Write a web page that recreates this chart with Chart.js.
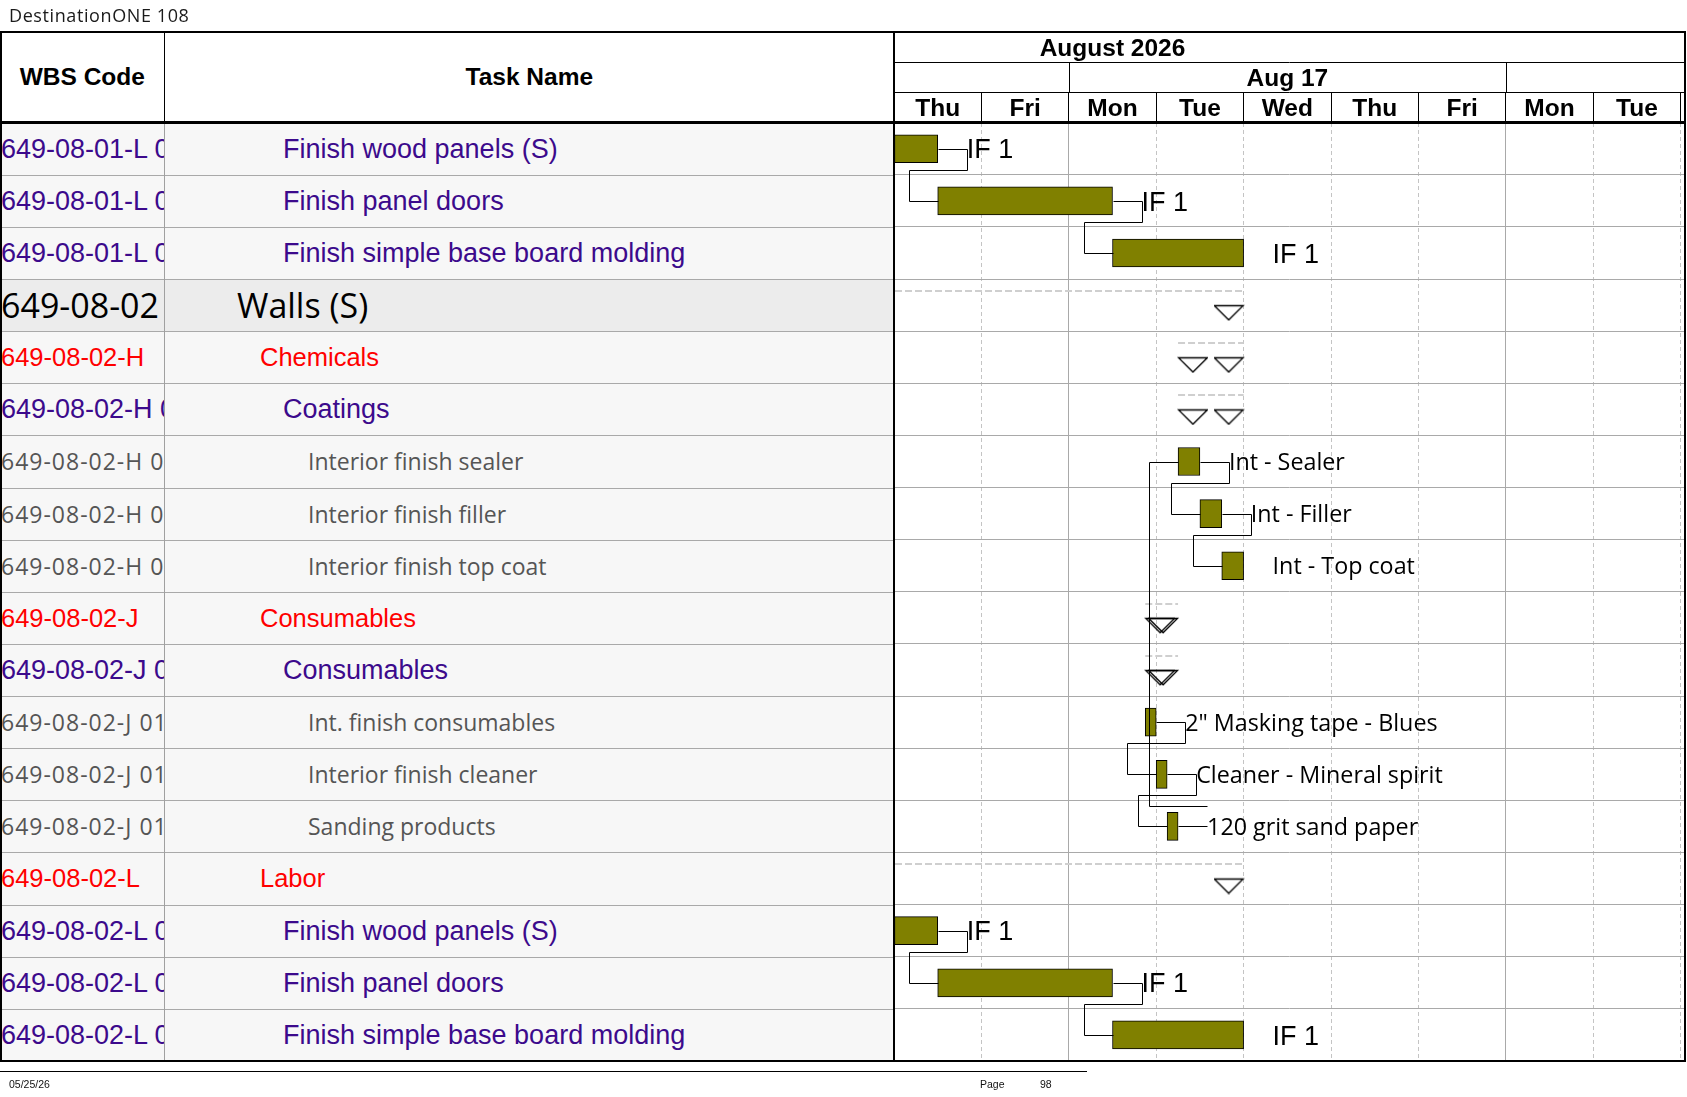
<!DOCTYPE html>
<html>
<head>
<meta charset="utf-8">
<title>DestinationONE 108 - Gantt</title>
<script src="https://cdn.jsdelivr.net/npm/chart.js@4.4.1/dist/chart.umd.min.js"></script>
<style>
  html, body { margin: 0; padding: 0; background: #fff; }
  #wrap { position: relative; width: 1687px; height: 1097px; overflow: hidden; background: #fff; }
  #c { position: absolute; left: 0; top: 0; }
  .abs { position: absolute; }
  .txt { position: absolute; white-space: nowrap; overflow: hidden; }
</style>
</head>
<body>
<div id="wrap">
  <canvas id="c" width="1687" height="1097"></canvas>
</div>
<script>
// ---------------- data ----------------
const wbsCodes = ['649-08-01-L 01','649-08-01-L 02','649-08-01-L 03','649-08-02','649-08-02-H','649-08-02-H 01',
  '649-08-02-H 01 01','649-08-02-H 01 02','649-08-02-H 01 03','649-08-02-J','649-08-02-J 01',
  '649-08-02-J 01 01','649-08-02-J 01 02','649-08-02-J 01 03','649-08-02-L','649-08-02-L 01','649-08-02-L 02','649-08-02-L 03'];
const taskNames = ['Finish wood panels (S)','Finish panel doors','Finish simple base board molding','Walls (S)','Chemicals','Coatings',
  'Interior finish sealer','Interior finish filler','Interior finish top coat','Consumables','Consumables',
  'Int. finish consumables','Interior finish cleaner','Sanding products','Labor','Finish wood panels (S)','Finish panel doors','Finish simple base board molding'];
const outlineLevels = [3,3,3,1,2,3,4,4,4,2,3,4,4,4,2,3,3,3];
const isSummary = [false,false,false,true,true,true,false,false,false,true,true,false,false,false,true,false,false,false];
// working days counted from Thu 13 Aug 2026, 08:00 (1 day = 8 working hours)
const startDays = [0,0.5,2.5,-3,3.25,3.25,3.25,3.5,3.75,2.875,2.875,2.875,3,3.125,-3,0,0.5,2.5];
const endDays   = [0.5,2.5,4,4,4,4,3.5,3.75,4,3.25,3.25,3,3.125,3.25,4,0.5,2.5,4];
const barLabels = ['IF 1','IF 1','IF 1','','','','Int - Sealer','Int - Filler','Int - Top coat','','',
  '2" Masking tape - Blues','Cleaner - Mineral spirit','120 grit sand paper','','IF 1','IF 1','IF 1'];
const links = [[0,1],[1,2],[6,7],[7,8],[11,12],[12,13],[13,6],[15,16],[16,17]];
const dayLabels = ['Thu','Fri','Mon','Tue','Wed','Thu','Fri','Mon','Tue','Wed'];
const weekLabels = ['Aug 10','Aug 17','Aug 24'];
const weekStartDays = [-3,2,7];
const monthLabel = 'August 2026';

// ---------------- layout / style constants ----------------
const HEADER_TOP = 32;
const GANTT_LEFT = 894;
const HEADER_H = 90.7;
const LABEL_GAP = 29;
const MONTH_CENTER = 2.5;
const WORK_WEEK = 5;
const X_MAX = 9.05;
const ROW_LINE = '#a9a9a9';

const levelStyle = {
  1: { color: '#000000', font: '34px "Open Sans"', indent: 237, bg: '#ececec', wbsSpacing: '0px' },
  2: { color: '#ff0000', font: '25.5px "Liberation Sans"', indent: 260, bg: '#f7f7f7', wbsSpacing: '0px' },
  3: { color: '#3c0a8c', font: '27px "Liberation Sans"', indent: 283, bg: '#f7f7f7', wbsSpacing: '0px' },
  4: { color: '#555555', font: '23px "Open Sans"', indent: 308, bg: '#f7f7f7', wbsSpacing: '1px' }
};

const rowKeys = wbsCodes.map((_, i) => 'r' + i);

function triangleImage(side) {
  const c = document.createElement('canvas');
  c.width = 60; c.height = 32;
  const g = c.getContext('2d');
  g.strokeStyle = '#000'; g.lineWidth = 1.3;
  const x0 = side === 'start' ? 30.5 : 0.7;
  const w = 28.8, t = 16.5, h = 14.3;
  g.beginPath(); g.moveTo(x0, t); g.lineTo(x0 + w, t); g.lineTo(x0 + w / 2, t + h); g.closePath(); g.stroke();
  return c;
}
const triStart = triangleImage('start');
const triEnd = triangleImage('end');

const ganttPlugin = {
  id: 'gantt',
  beforeDatasetsDraw(chart) {
    const { ctx, chartArea: ca, scales: { x, y } } = chart;
    const rh = y.getPixelForValue(1) - y.getPixelForValue(0);
    ctx.save();
    ctx.beginPath(); ctx.rect(ca.left, ca.top, ca.right - ca.left, ca.bottom - ca.top); ctx.clip();
    ctx.strokeStyle = '#cfcfcf'; ctx.lineWidth = 2; ctx.setLineDash([7, 3]);
    isSummary.forEach((s, i) => {
      if (!s) return;
      const yy = Math.round(y.getPixelForValue(i) - rh / 2 + 12);
      const x0 = Math.max(x.getPixelForValue(startDays[i]), ca.left + 1);
      const x1 = x.getPixelForValue(endDays[i]);
      ctx.beginPath(); ctx.moveTo(x0, yy); ctx.lineTo(x1, yy); ctx.stroke();
    });
    ctx.restore();
  },
  afterDatasetsDraw(chart) {
    const { ctx, chartArea: ca, scales: { x, y } } = chart;
    const rh = y.getPixelForValue(1) - y.getPixelForValue(0);
    const p = v => Math.round(v) + 0.5;
    ctx.save();
    ctx.beginPath(); ctx.rect(ca.left, ca.top, ca.right - ca.left, ca.bottom - ca.top); ctx.clip();
    ctx.strokeStyle = '#000'; ctx.lineWidth = 1; ctx.setLineDash([]);
    links.forEach(([a, b]) => {
      const pe = x.getPixelForValue(endDays[a]);
      const ss = x.getPixelForValue(startDays[b]);
      const ya = y.getPixelForValue(a), yb = y.getPixelForValue(b);
      const lx = pe + LABEL_GAP, jx = ss - LABEL_GAP;
      const down = b > a;
      const ym = down ? ya + rh / 2 - 5 : ya - rh / 2 + 6;
      ctx.beginPath();
      ctx.moveTo(p(pe), p(ya)); ctx.lineTo(p(lx), p(ya));
      if (down) ctx.lineTo(p(lx), p(ym)); else ctx.moveTo(p(lx), p(ym));
      ctx.lineTo(p(jx), p(ym)); ctx.lineTo(p(jx), p(yb)); ctx.lineTo(p(ss), p(yb));
      ctx.stroke();
    });
    ctx.fillStyle = '#000'; ctx.textAlign = 'left'; ctx.textBaseline = 'alphabetic';
    barLabels.forEach((t, i) => {
      if (!t) return;
      const arial = outlineLevels[i] === 3;
      const size = arial ? 27 : 23.3;
      ctx.font = size + 'px ' + (arial ? '"Liberation Sans", Arial' : '"Open Sans"');
      ctx.fillText(t, x.getPixelForValue(endDays[i]) + LABEL_GAP, y.getPixelForValue(i) + size * 0.358);
    });
    ctx.restore();
  },
  afterDraw(chart) {
    const { ctx, chartArea: ca, scales: { x } } = chart;
    const top = HEADER_TOP, hr = (ca.top - top) / 3;
    ctx.save();
    ctx.beginPath(); ctx.rect(ca.left, top, ca.right - ca.left, ca.top - top); ctx.clip();
    ctx.strokeStyle = '#000'; ctx.lineWidth = 1; ctx.setLineDash([]);
    [top + hr, top + 2 * hr].forEach(yy => {
      const v = Math.round(yy) + 0.5;
      ctx.beginPath(); ctx.moveTo(ca.left, v); ctx.lineTo(ca.right, v); ctx.stroke();
    });
    weekStartDays.forEach(d => {
      const xx = Math.round(x.getPixelForValue(d)) + 0.5;
      ctx.beginPath(); ctx.moveTo(xx, top + hr); ctx.lineTo(xx, top + 2 * hr); ctx.stroke();
    });
    const fs = 24.5, cap = fs * 0.358;
    ctx.fillStyle = '#000'; ctx.font = 'bold ' + fs + 'px "Liberation Sans", Arial';
    ctx.textAlign = 'center'; ctx.textBaseline = 'alphabetic';
    ctx.fillText(monthLabel, x.getPixelForValue(MONTH_CENTER), top + hr / 2 + cap);
    weekLabels.forEach((w, k) => ctx.fillText(w, x.getPixelForValue(weekStartDays[k] + WORK_WEEK / 2), top + 1.5 * hr + cap));
    dayLabels.forEach((d, k) => ctx.fillText(d, x.getPixelForValue(k + 0.5), top + 2.5 * hr + cap));
    ctx.restore();
  }
};

const isWeekStart = v => weekStartDays.includes(v);

const chart = new Chart(document.getElementById('c'), {
  type: 'bar',
  data: {
    labels: rowKeys,
    datasets: [
      {
        label: 'Tasks',
        data: rowKeys.map((_, i) => isSummary[i] ? null : [startDays[i], endDays[i]]),
        backgroundColor: '#808000', borderColor: '#000', borderWidth: 1, borderSkipped: false,
        barThickness: 28, grouped: false
      },
      {
        type: 'line', label: 'Summary start', indexAxis: 'y', showLine: false,
        data: rowKeys.map((k, i) => isSummary[i] ? { x: startDays[i], y: k } : null).filter(Boolean),
        pointStyle: triStart, pointRadius: 6, pointBorderWidth: 0
      },
      {
        type: 'line', label: 'Summary finish', indexAxis: 'y', showLine: false,
        data: rowKeys.map((k, i) => isSummary[i] ? { x: endDays[i], y: k } : null).filter(Boolean),
        pointStyle: triEnd, pointRadius: 6, pointBorderWidth: 0
      }
    ]
  },
  options: {
    indexAxis: 'y',
    responsive: false,
    animation: false,
    events: [],
    layout: { autoPadding: false, padding: { left: GANTT_LEFT, right: 2, top: HEADER_TOP, bottom: 36 } },
    plugins: { legend: { display: false }, tooltip: { enabled: false } },
    scales: {
      x: {
        type: 'linear', position: 'top', min: 0, max: X_MAX,
        afterBuildTicks: s => { s.ticks = dayLabels.map((_, i) => ({ value: i })).filter(t => t.value <= X_MAX); },
        afterFit: s => { s.height = HEADER_H; },
        ticks: { display: false },
        grid: {
          color: c => (c.tick && isWeekStart(c.tick.value)) ? '#a9a9a9' : '#c4c4c4',
          lineWidth: 1, drawTicks: true, tickLength: 30.2, tickColor: '#000', tickWidth: 1, tickBorderDash: []
        },
        border: { display: false, dash: c => (c.tick && !isWeekStart(c.tick.value)) ? [4, 3] : [] }
      },
      y: {
        type: 'category', position: 'left', offset: true,
        afterFit: s => { s.width = 0; },
        ticks: { display: false },
        grid: { offset: true, color: ROW_LINE, lineWidth: 1, drawTicks: false },
        border: { display: false }
      }
    }
  },
  plugins: [ganttPlugin]
});

// ---------------- table (HTML text) ----------------
(function buildTable() {
  const wrap = document.getElementById('wrap');
  const y = chart.scales.y;
  const ca = chart.chartArea;
  const rh = y.getPixelForValue(1) - y.getPixelForValue(0);
  const add = (cls, style, text) => {
    const d = document.createElement('div');
    d.className = cls;
    Object.keys(style).forEach(k => { if (k !== 'lineHeight' && k !== 'letterSpacing') d.style[k] = style[k]; });
    if (style.lineHeight) d.style.lineHeight = style.lineHeight;
    if (style.letterSpacing) d.style.letterSpacing = style.letterSpacing;
    if (text != null) d.textContent = text;
    wrap.appendChild(d); return d;
  };
  const WBS_W = 164.6;
  const hh = (ca.top - HEADER_TOP) + 'px';
  // title
  add('txt', { left: '9px', top: '2px', font: '18px "Open Sans"', color: '#1a1a1a', letterSpacing: '0.6px', lineHeight: '26px' }, 'DestinationONE 108');
  // header
  add('abs', { left: '0px', top: HEADER_TOP + 'px', width: GANTT_LEFT + 'px', height: hh, background: '#fff' });
  add('txt', { font: 'bold 24.5px "Liberation Sans", Arial', left: '0px', top: HEADER_TOP + 'px', width: WBS_W + 'px', height: hh, lineHeight: hh,
    textAlign: 'center', color: '#000' }, 'WBS Code');
  add('txt', { font: 'bold 24.5px "Liberation Sans", Arial', left: WBS_W + 'px', top: HEADER_TOP + 'px', width: (GANTT_LEFT - WBS_W) + 'px', height: hh, lineHeight: hh,
    textAlign: 'center', color: '#000' }, 'Task Name');
  // rows
  wbsCodes.forEach((code, i) => {
    const st = levelStyle[outlineLevels[i]];
    const top = y.getPixelForValue(i) - rh / 2;
    add('abs', { left: '0px', top: top + 'px', width: GANTT_LEFT + 'px', height: rh + 'px', background: st.bg });
    add('txt', { font: st.font, left: '1px', top: top + 'px', width: (WBS_W - 1) + 'px', height: rh + 'px', lineHeight: rh + 'px', color: st.color, letterSpacing: st.wbsSpacing }, code);
    add('txt', { font: st.font, left: st.indent + 'px', top: top + 'px', width: (GANTT_LEFT - st.indent - 2) + 'px', height: rh + 'px', lineHeight: rh + 'px', color: st.color }, taskNames[i]);
    if (i > 0) add('abs', { left: '0px', top: Math.round(top) + 'px', width: GANTT_LEFT + 'px', height: '1px', background: ROW_LINE });
  });
  // frame lines
  const line = (l, t, w, h, c) => add('abs', { left: l + 'px', top: t + 'px', width: w + 'px', height: h + 'px', background: c });
  line(WBS_W - 0.5, ca.top, 1, ca.bottom - ca.top, '#a0a0a0');
  line(WBS_W - 0.5, HEADER_TOP, 1.3, ca.top - HEADER_TOP, '#000');
  line(0, HEADER_TOP - 0.7, ca.right + 0.7, 1.5, '#000');
  line(0, HEADER_TOP, 1.5, ca.bottom - HEADER_TOP, '#000');
  line(0, ca.top - 1.5, ca.right + 0.7, 2.6, '#000');
  line(GANTT_LEFT - 0.8, HEADER_TOP, 1.6, ca.bottom - HEADER_TOP, '#000');
  line(ca.right - 0.6, HEADER_TOP, 1.5, ca.bottom - HEADER_TOP + 0.8, '#000');
  line(0, ca.bottom - 0.7, ca.right + 0.9, 1.5, '#000');
  // footer
  line(0, 1071, 1087, 1.2, '#000');
  const ff = { font: '10.5px "Liberation Sans", Arial', color: '#111', lineHeight: '14px', top: '1077px' };
  add('txt', Object.assign({ left: '9px' }, ff), '05/25/26');
  add('txt', Object.assign({ left: '980px' }, ff), 'Page');
  add('txt', Object.assign({ left: '1040px' }, ff), '98');
})();
</script>
</body>
</html>
